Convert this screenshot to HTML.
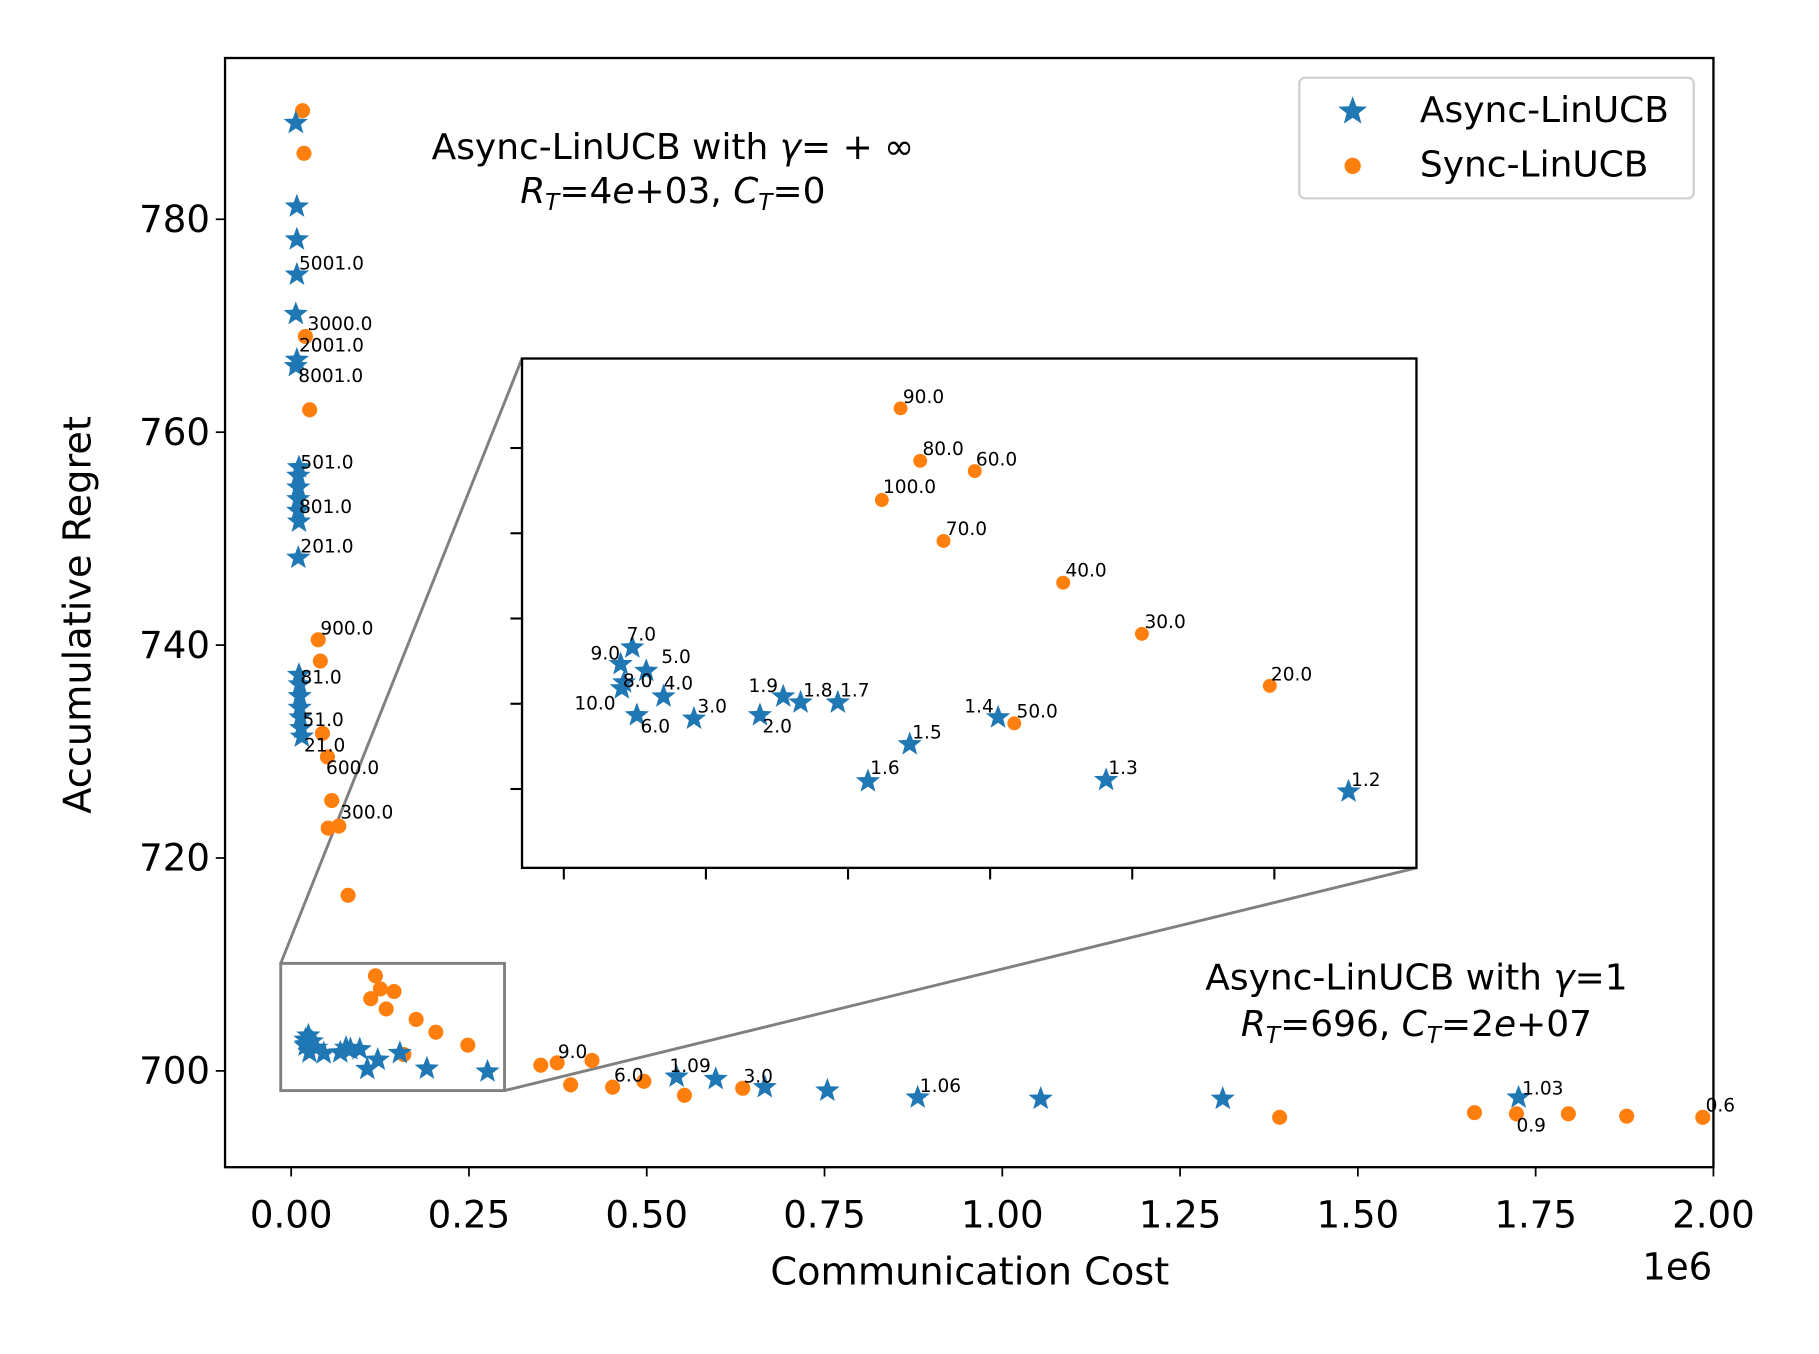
<!DOCTYPE html>
<html><head><meta charset="utf-8"><style>
html,body{margin:0;padding:0;background:#fff;}
svg{display:block;font-family:"DejaVu Sans","Liberation Sans",sans-serif;}
</style></head><body>
<svg id="chart" width="1819" height="1354" viewBox="0 0 1568 1167" preserveAspectRatio="none" xmlns="http://www.w3.org/2000/svg">
<rect x="0" y="0" width="1568" height="1167" fill="#fff"/>
<g id="main"></g>
</svg>
<script>
// ---------- data (x in units of 1e6, y = regret) ----------
const asyncX = [0.0065,0.008,0.008,0.008,0.0065,0.008,0.0065,0.011,0.010,0.010,0.010,0.010,0.011,0.010,0.011,0.012,0.012,0.012,0.013,0.014,0.015,
  0.0241,0.0200,0.0290,0.0212,0.0351,0.0204,0.0257,0.0458,0.0690,0.0772,0.0833,0.0964,0.1217,0.1070,0.1528,0.1908,0.2761,
  0.542,0.597,0.666,0.754,0.881,1.054,1.310,1.726];
const asyncY = [789.05,781.2,778.1,774.8,771.1,766.8,766.2,756.7,755.9,754.8,753.7,752.6,751.6,748.2,737.2,736.3,735.2,734.1,733.2,732.2,731.4,
  703.32,702.93,702.77,702.50,702.17,702.36,701.73,701.65,701.73,702.17,702.03,702.03,701.05,700.18,701.68,700.21,699.94,
  699.46,699.24,698.47,698.15,697.49,697.38,697.38,697.49];
const syncX = [0.016,0.018,0.020,0.026,0.038,0.041,0.044,0.051,0.057,0.052,0.067,0.080,
  0.1185,0.1254,0.1446,0.1119,0.1336,0.1757,0.2034,0.2484,0.1585,
  0.351,0.374,0.423,0.393,0.452,0.496,0.553,0.635,1.390,1.664,1.723,1.796,1.878,1.985];
const syncY = [790.2,786.2,769.0,762.1,740.5,738.5,731.7,729.5,725.4,722.8,723.0,716.5,
  708.93,707.70,707.46,706.78,705.82,704.84,703.64,702.42,701.54,
  700.54,700.76,700.98,698.69,698.47,699.02,697.71,698.37,695.64,696.08,695.97,695.97,695.75,695.64];
const mainLabels = ["5001.0","3000.0","2001.0","8001.0","501.0","801.0","201.0","900.0","81.0","51.0","21.0","600.0","300.0","9.0","6.0","1.09","3.0","1.06","1.03","0.9","0.6"];
const mainLabelX = [0.011,0.023,0.011,0.010,0.013,0.011,0.013,0.041,0.013,0.016,0.018,0.049,0.069,0.375,0.454,0.532,0.636,0.884,1.731,1.723,1.989];
const mainLabelY = [775.3,769.6,767.6,764.7,756.6,752.4,748.7,741.0,736.4,732.4,730.0,727.9,723.7,701.2,699.0,699.9,698.9,698.0,697.8,694.3,696.2];
const insetLabels = ["90.0","80.0","60.0","100.0","70.0","40.0","30.0","20.0","50.0","7.0","9.0","5.0","8.0","4.0","10.0","6.0","3.0","2.0","1.9","1.8","1.7","1.5","1.6","1.4","1.3","1.2"];
const insetLabelX = [0.1193,0.1262,0.1450,0.1123,0.1344,0.1765,0.2043,0.2488,0.1593,0.0221,0.0094,0.0343,0.0208,0.0351,0.0037,0.0270,0.0470,0.0699,0.0650,0.0842,0.0972,0.1226,0.1078,0.1409,0.1916,0.2770];
const insetLabelY = [709.06,707.84,707.59,706.94,705.96,704.98,703.78,702.55,701.68,703.48,703.04,702.96,702.39,702.33,701.87,701.33,701.79,701.33,702.28,702.17,702.17,701.19,700.35,701.79,700.35,700.07];
const xTicks = [0,0.25,0.5,0.75,1.0,1.25,1.5,1.75,2.0];
const xTickLabels = ["0.00","0.25","0.50","0.75","1.00","1.25","1.50","1.75","2.00"];
const yTicks = [700,720,740,760,780];
const insetXTicks = [0,0.05,0.10,0.15,0.20,0.25];
const insetYTicks = [700,702,704,706,708];

// ---------- scales ----------
const M = {l:194,r:1477,t:50,b:1006};
const X = v => 251 + v*613;
const Y = v => 923 - (v-700)*9.175;
const I = {l:450,r:1221,t:309,b:748, x0:-0.0147, x1:0.300, y0:698.15, y1:710.1};
const IX = v => I.l + (v-I.x0)/(I.x1-I.x0)*(I.r-I.l);
const IY = v => I.b - (v-I.y0)/(I.y1-I.y0)*(I.b-I.t);

const NS="http://www.w3.org/2000/svg";
const root=document.getElementById('main');
function mk(tag,attrs,parent,text){const e=document.createElementNS(NS,tag);for(const k in attrs)e.setAttribute(k,attrs[k]);if(text!==undefined)e.textContent=text;(parent||root).appendChild(e);return e;}
function starPts(cx,cy,R){const r=R*0.42;let p=[];for(let i=0;i<10;i++){const a=-Math.PI/2+i*Math.PI/5;const rr=i%2?r:R;p.push((cx+rr*Math.cos(a)).toFixed(1)+','+(cy+rr*Math.sin(a)).toFixed(1));}return p.join(' ');}

const frame=mk('rect',{x:M.l,y:M.t,width:M.r-M.l,height:M.b-M.t,fill:'none',stroke:'#000','stroke-width':2});



xTicks.forEach((v,i)=>{
  const t=mk('line',{x1:X(v),x2:X(v),y1:M.b,y2:M.b+8,stroke:'#000','stroke-width':1.5});
  
  
  const l=mk('text',{x:X(v),y:M.b+52,'font-size':32,'text-anchor':'middle'},root,xTickLabels[i]);
  
  
});
yTicks.forEach(v=>{
  const t=mk('line',{x1:M.l-8,x2:M.l,y1:Y(v),y2:Y(v),stroke:'#000','stroke-width':1.5});
  
  
  const l=mk('text',{x:M.l-13,y:Y(v)+11,'font-size':32,'text-anchor':'end'},root,String(v));
  
  
});
let e;
e=mk('text',{x:836,y:1107,'font-size':33,'text-anchor':'middle'},root,'Communication Cost');


e=mk('text',{x:1476,y:1103,'font-size':32,'text-anchor':'end'},root,'1e6');


e=mk('text',{x:78,y:530,'font-size':33,'text-anchor':'middle',transform:'rotate(-90 78 530)'},root,'Accumulative Regret');



e=mk('rect',{x:X(I.x0),y:Y(I.y1),width:X(I.x1)-X(I.x0),height:Y(I.y0)-Y(I.y1),fill:'none',stroke:'#808080','stroke-width':2.5});


e=mk('line',{x1:X(I.x0),y1:Y(I.y1),x2:I.l,y2:I.t,stroke:'#808080','stroke-width':2.5});


e=mk('line',{x1:X(I.x1),y1:Y(I.y0),x2:I.r,y2:I.b,stroke:'#808080','stroke-width':2.5});



syncX.forEach((v,i)=>{
  const c=mk('circle',{cx:X(v),cy:Y(syncY[i]),r:6.5,fill:'#ff7f0e'});
  
  
});
asyncX.forEach((v,i)=>{
  const s=mk('polygon',{points:starPts(X(v),Y(asyncY[i]),11),fill:'#1f77b4'});
  
  
});
mainLabels.forEach((t,i)=>{
  const l=mk('text',{x:X(mainLabelX[i]),y:Y(mainLabelY[i]),'font-size':16},root,t);
  
  
});

e=mk('text',{x:580,y:137,'font-size':31,'text-anchor':'middle'},root);


e.innerHTML='Async-LinUCB with <tspan font-style="italic">γ</tspan>= + ∞';
e=mk('text',{x:580,y:175,'font-size':31,'text-anchor':'middle'},root);


e.innerHTML='<tspan font-style="italic">R</tspan><tspan font-style="italic" font-size="20" dy="6">T</tspan><tspan dy="-6">=4</tspan><tspan font-style="italic">e</tspan>+03, <tspan font-style="italic">C</tspan><tspan font-style="italic" font-size="20" dy="6">T</tspan><tspan dy="-6">=0</tspan>';
e=mk('text',{x:1221,y:853,'font-size':31,'text-anchor':'middle'},root);


e.innerHTML='Async-LinUCB with <tspan font-style="italic">γ</tspan>=1';
e=mk('text',{x:1221,y:893,'font-size':31,'text-anchor':'middle'},root);


e.innerHTML='<tspan font-style="italic">R</tspan><tspan font-style="italic" font-size="20" dy="6">T</tspan><tspan dy="-6">=696, </tspan><tspan font-style="italic">C</tspan><tspan font-style="italic" font-size="20" dy="6">T</tspan><tspan dy="-6">=2</tspan><tspan font-style="italic">e</tspan>+07';

e=mk('rect',{x:1120,y:67,width:340,height:104,rx:5,fill:'#fff',stroke:'#d0d0d0','stroke-width':2});


e=mk('polygon',{points:starPts(1166,96,13),fill:'#1f77b4'});


e=mk('text',{x:1224,y:105,'font-size':31},root,'Async-LinUCB');


e=mk('circle',{cx:1166,cy:143,r:7,fill:'#ff7f0e'});


e=mk('text',{x:1224,y:152,'font-size':31},root,'Sync-LinUCB');



e=mk('rect',{x:I.l,y:I.t,width:I.r-I.l,height:I.b-I.t,fill:'#fff',stroke:'#000','stroke-width':2});


const ig=mk('g',{});


insetXTicks.forEach(v=>{
  const t=mk('line',{x1:IX(v),x2:IX(v),y1:I.b,y2:I.b+10,stroke:'#000','stroke-width':1.8},ig);
  
  
});
insetYTicks.forEach(v=>{
  const t=mk('line',{x1:I.l-10,x2:I.l,y1:IY(v),y2:IY(v),stroke:'#000','stroke-width':1.8},ig);
  
  
});
function inI(x,y){return x>=I.x0&&x<=I.x1&&y>=I.y0&&y<=I.y1;}
syncX.forEach((v,i)=>{ if(!inI(v,syncY[i]))return;
  const c=mk('circle',{cx:IX(v),cy:IY(syncY[i]),r:6,fill:'#ff7f0e'},ig);
  
  
});
asyncX.forEach((v,i)=>{ if(!inI(v,asyncY[i]))return;
  const s=mk('polygon',{points:starPts(IX(v),IY(asyncY[i]),11),fill:'#1f77b4'},ig);
  
  
});
insetLabels.forEach((t,i)=>{
  const l=mk('text',{x:IX(insetLabelX[i]),y:IY(insetLabelY[i]),'font-size':16},ig,t);
  
  
});
</script>
</body></html>
